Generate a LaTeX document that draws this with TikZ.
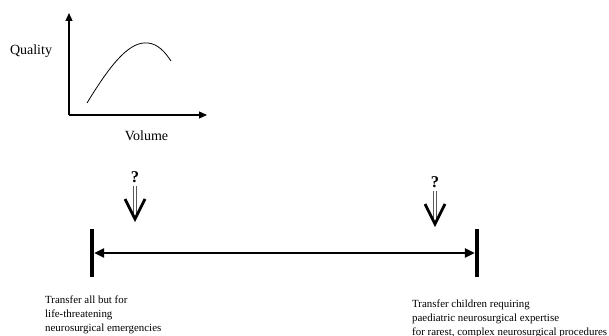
\documentclass[tikz,border=0pt]{standalone}
\usepackage{fontspec}
\setmainfont{Liberation Serif}
\usetikzlibrary{arrows.meta,calc}
\begin{document}
\begin{tikzpicture}[x=1pt, y=-1pt, >={Triangle[length=8pt,width=7pt]},
	axis/.style={line width=1.1pt, ->},
	bar/.style={fill, inner sep=0pt, minimum width=4pt, minimum height=48pt},
	qmark/.style={font=\fontsize{16.5}{16.5}\selectfont\bfseries, inner sep=0pt},
	dbl/.style={double, double distance=2.2pt, line width=0.5pt, draw=black!65},
	vhead/.style={line width=2.8pt, line join=miter},
	note/.style={font=\fontsize{10.9}{13.6}\selectfont, align=left, inner sep=0pt, anchor=north west},
	lbl/.style={font=\fontsize{14}{14}\selectfont}]
	\useasboundingbox (0,0) rectangle (609,336);
	%\draw[dotted] (0,0) grid[step=20] (609,336);
	% quality against volume
	\coordinate (O) at (69,115);
	\draw [axis] (O) -- (69,13);
	\draw [axis] (O) -- (207,115);
	\draw
	node [lbl] (qual) at (31,51) {Quality}
	node [lbl] (vol) at (146.5,135.5) {Volume};
	\draw [line width=0.8pt] (87,103) .. controls (112,62) and (130,41) .. (148,43)
		.. controls (158,44) and (165,52) .. (171,61);
	% the range of transfers
	\node [bar] (lo) at (92,253) {};
	\node [bar] (hi) at (477,253) {};
	\draw [{Triangle[length=10pt,width=9pt]}-{Triangle[length=10pt,width=9pt]}, line width=2.4pt] (lo) -- (hi);
	\node [note] (notelo) at (45,296) {Transfer all but for\\life-threatening\\neurosurgical emergencies};
	\node [note] (notehi) at (412,300) {Transfer children requiring\\paediatric neurosurgical expertise\\for rarest, complex neurosurgical procedures};
	% where to draw the line
	\foreach \name/\x/\y in {L/135/177.5, R/435/182.5}{
		\node [qmark] (q\name) at (\x,\y) {?};
		\coordinate (tip\name) at (\x,\y+41.5);
		\draw [dbl] (q\name.south) ++(0,3) -- ($(tip\name)+(0,-4)$);
		\draw [vhead] ($(tip\name)+(-10,-20)$) -- (tip\name) -- ($(tip\name)+(10,-20)$);
	}
\end{tikzpicture}
\end{document}
